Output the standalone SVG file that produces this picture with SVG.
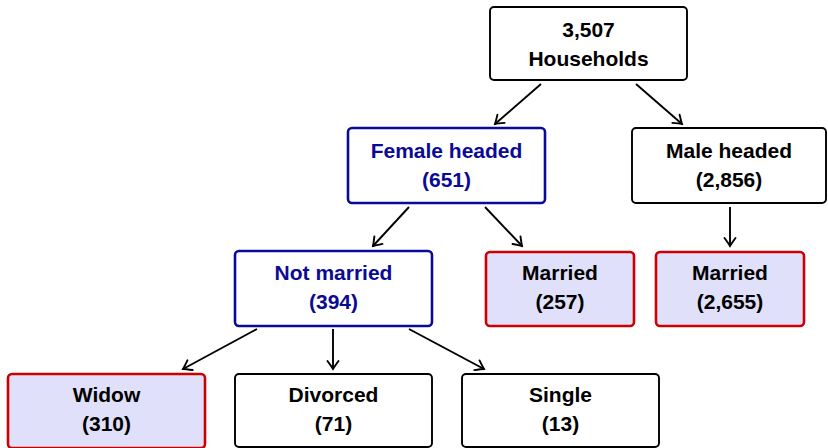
<svg xmlns="http://www.w3.org/2000/svg" width="828" height="448" viewBox="0 0 828 448">
<style>
  .box { fill: #ffffff; stroke: #000000; stroke-width: 1.9; }
  .fbox { fill: #ffffff; stroke: #0a0a96; stroke-width: 2.6; }
  .mbox { fill: #e0e0fa; stroke: #cc0000; stroke-width: 2.6; }
  text { font-family: "Liberation Sans", Arial, sans-serif; font-weight: bold; font-size: 21px; text-anchor: middle; fill: #000000; }
  text.blue { fill: #0a0a96; }
  .edge { fill: none; stroke: #000000; stroke-width: 1.9; marker-end: url(#arr); }
</style>
<defs>
  <marker id="arr" viewBox="-10 -7 12 14" refX="0" refY="0" markerWidth="12" markerHeight="14" markerUnits="userSpaceOnUse" orient="auto">
    <path d="M -8,-5.5 Q -2.5,-1.5 0,0 Q -2.5,1.5 -8,5.5" fill="none" stroke="#000000" stroke-width="1.9" stroke-linecap="round"/>
  </marker>
</defs>
<rect width="828" height="448" fill="#ffffff"/>
<g id="connectors">
  <line class="edge" x1="541" y1="84" x2="495" y2="124"/>
  <line class="edge" x1="636" y1="84" x2="682" y2="124"/>
  <line class="edge" x1="409" y1="207" x2="373" y2="246"/>
  <line class="edge" x1="485" y1="207" x2="522" y2="246"/>
  <line class="edge" x1="730" y1="207" x2="730" y2="246"/>
  <line class="edge" x1="257" y1="329" x2="183" y2="369"/>
  <line class="edge" x1="333" y1="329" x2="333" y2="369"/>
  <line class="edge" x1="409" y1="329" x2="484" y2="369"/>
</g>
<g id="households">
  <rect class="box" x="490" y="7" width="197" height="73" rx="4"/>
  <text x="588.5" y="37">3,507</text>
  <text x="588.5" y="66">Households</text>
</g>
<g id="female">
  <rect class="fbox" x="348" y="128" width="197" height="75" rx="4"/>
  <text class="blue" x="446.5" y="158">Female headed</text>
  <text class="blue" x="446.5" y="187">(651)</text>
</g>
<g id="male">
  <rect class="box" x="632" y="128" width="194" height="75" rx="4"/>
  <text x="729" y="158">Male headed</text>
  <text x="729" y="187">(2,856)</text>
</g>
<g id="notmarried">
  <rect class="fbox" x="235" y="251" width="197" height="75" rx="4"/>
  <text class="blue" x="333.5" y="280">Not married</text>
  <text class="blue" x="333.5" y="309">(394)</text>
</g>
<g id="married-f">
  <rect class="mbox" x="486" y="252" width="148" height="74" rx="4"/>
  <text x="560" y="280">Married</text>
  <text x="560" y="309">(257)</text>
</g>
<g id="married-m">
  <rect class="mbox" x="656" y="252" width="148" height="74" rx="4"/>
  <text x="730" y="280">Married</text>
  <text x="730" y="309">(2,655)</text>
</g>
<g id="widow">
  <rect class="mbox" x="8" y="374" width="197" height="74" rx="4"/>
  <text x="106.5" y="402">Widow</text>
  <text x="106.5" y="431">(310)</text>
</g>
<g id="divorced">
  <rect class="box" x="235" y="374" width="197" height="73" rx="4"/>
  <text x="333.5" y="402">Divorced</text>
  <text x="333.5" y="431">(71)</text>
</g>
<g id="single">
  <rect class="box" x="462" y="374" width="197" height="73" rx="4"/>
  <text x="560.5" y="402">Single</text>
  <text x="560.5" y="431">(13)</text>
</g>
</svg>
